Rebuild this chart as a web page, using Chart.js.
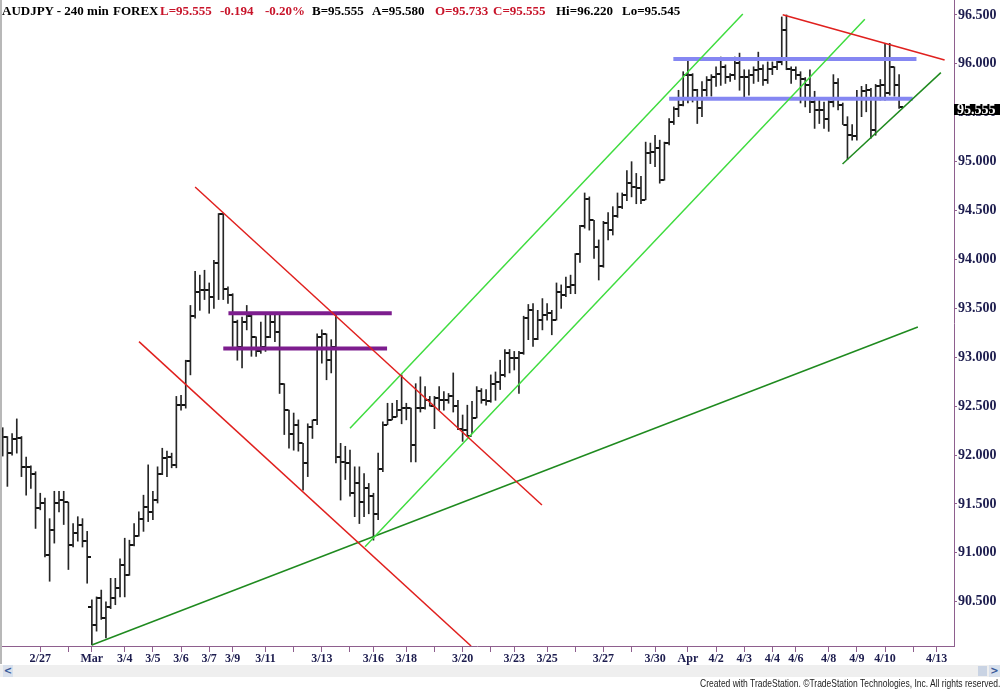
<!DOCTYPE html>
<html>
<head>
<meta charset="utf-8">
<script src="https://cdn.jsdelivr.net/npm/chart.js@4.4.0/dist/chart.umd.min.js"></script>
<style>
html,body{margin:0;padding:0;background:#fff;}
#wrap{position:relative;width:1000px;height:689px;overflow:hidden;background:#fff;}
#c{position:absolute;left:0;top:0;}
.t{position:absolute;top:3px;font:bold 13px "Liberation Serif",serif;white-space:pre;line-height:16px;}
.k{color:#000;}
.r{color:#c8142a;}
#edge{position:absolute;left:0;top:0;width:2px;height:664px;background:#b8b8b8;}
#scroll{position:absolute;left:0;top:665px;width:1000px;height:12px;background:#efefef;}
#sl{position:absolute;left:3px;top:0;width:10px;height:12px;background:#d8e0ec;color:#3a5a9a;font:bold 10px "DejaVu Sans",sans-serif;line-height:12px;text-align:center;}
#sr{position:absolute;right:0;top:0;width:11px;height:12px;background:#d8e0ec;color:#3a5a9a;font:bold 10px "DejaVu Sans",sans-serif;line-height:12px;text-align:center;}
#sm{position:absolute;right:13px;top:1px;width:9px;height:10px;background:#c9d3e3;}
#foot{position:absolute;right:0;top:678px;font:11px "Liberation Sans Narrow","Liberation Sans",sans-serif;color:#222;white-space:pre;transform-origin:right top;line-height:11px;}
</style>
</head>
<body>
<div id="wrap">
<canvas id="c" width="1000" height="689"></canvas>
<div id="edge"></div>
<span class="t k" style="left:2px">AUDJPY - 240 min</span>
<span class="t k" style="left:113px">FOREX</span>
<span class="t r" style="left:160px">L=95.555</span>
<span class="t r" style="left:220px">-0.194</span>
<span class="t r" style="left:265px">-0.20%</span>
<span class="t k" style="left:312px">B=95.555</span>
<span class="t k" style="left:372px">A=95.580</span>
<span class="t r" style="left:435px">O=95.733</span>
<span class="t r" style="left:493px">C=95.555</span>
<span class="t k" style="left:556px">Hi=96.220</span>
<span class="t k" style="left:622px">Lo=95.545</span>
<div id="scroll"><div id="sl">&lt;</div><div id="sm"></div><div id="sr">&gt;</div></div>
<div id="foot">Created with TradeStation. ©TradeStation Technologies, Inc. All rights reserved.</div>
</div>
<script>
// ---- data (AUDJPY 240-min bars) ----
const opens = [92.25,92.19,92.02,92.16,92.17,91.88,91.88,91.81,91.46,91.51,
90.98,91.23,91.51,91.54,91.52,91.08,91.20,91.29,91.12,90.45,
90.26,90.54,90.33,90.45,90.54,90.64,90.88,90.77,91.08,91.17,
91.35,91.47,91.42,91.54,91.81,91.97,91.98,91.90,92.51,92.51,
92.96,93.42,93.67,93.69,93.69,93.62,93.96,94.46,93.70,93.64,
93.36,93.11,93.36,93.42,93.21,93.06,93.11,93.21,93.36,93.26,
92.73,92.46,92.22,92.31,92.12,91.92,92.29,92.36,93.21,93.24,
92.97,93.11,91.98,91.93,91.92,91.61,91.71,91.52,91.66,91.58,
91.40,91.86,92.31,92.36,92.39,92.46,92.48,92.48,92.10,92.48,
92.48,92.56,92.50,92.58,92.56,92.56,92.60,92.50,92.27,92.26,
92.20,92.38,92.66,92.56,92.55,92.73,92.75,92.82,93.04,92.99,
92.99,93.04,93.40,93.48,93.19,93.38,93.43,93.45,93.38,93.67,
93.64,93.72,93.74,94.06,94.34,94.62,94.40,94.13,93.93,94.37,
94.30,94.44,94.54,94.66,94.78,94.74,94.73,94.61,95.09,95.10,
95.14,94.81,95.19,95.41,95.54,95.58,95.89,95.89,95.73,95.55,
95.73,95.84,95.87,95.90,95.97,95.87,95.89,96.01,95.87,95.87,
95.89,95.94,95.95,95.83,95.95,95.97,96.02,96.35,95.95,95.94,
95.89,95.85,95.78,95.61,95.53,95.53,95.44,95.61,95.80,95.58,
95.38,95.27,95.26,95.65,95.72,95.73,95.32,95.77,95.78,95.70,
95.97,95.78];
const highs = [92.28,92.19,92.22,92.37,92.19,91.98,91.89,91.83,91.61,91.56,
91.35,91.63,91.63,91.63,91.52,91.30,91.37,91.35,91.22,90.52,
90.55,90.62,90.50,90.74,90.74,90.94,91.15,91.13,91.30,91.42,
91.59,91.90,91.63,91.88,92.07,92.04,92.02,92.60,92.61,92.97,
93.53,93.88,93.84,93.89,93.76,93.99,94.47,94.47,93.72,93.65,
93.38,93.41,93.53,93.43,93.21,93.36,93.43,93.43,93.43,93.43,
92.73,92.46,92.43,92.36,92.12,92.32,92.36,93.24,93.28,93.24,
93.18,93.45,92.12,92.09,92.05,91.88,91.88,91.81,91.71,91.61,
92.02,92.34,92.53,92.53,92.56,92.82,92.53,92.48,92.73,92.80,
92.70,92.60,92.60,92.70,92.65,92.63,92.84,92.56,92.41,92.51,
92.55,92.70,92.68,92.67,92.82,92.85,92.97,93.08,93.08,93.06,
93.06,93.42,93.54,93.55,93.48,93.60,93.55,93.48,93.76,93.74,
93.82,93.84,94.06,94.35,94.68,94.64,94.40,94.20,94.39,94.48,
94.54,94.68,94.68,94.91,95.00,94.88,94.85,95.20,95.19,95.27,
95.22,95.20,95.44,95.56,95.73,95.92,96.06,95.90,95.74,95.82,
95.87,95.89,95.97,96.07,95.99,95.90,96.07,96.11,95.94,95.94,
95.97,96.12,95.99,96.02,96.02,96.04,96.48,96.50,95.97,95.97,
95.92,95.86,95.94,95.72,95.63,95.61,95.65,95.89,95.85,95.60,
95.46,95.38,95.73,95.77,95.79,95.75,95.79,95.84,96.21,96.21,
95.97,95.89];
const lows = [91.99,91.68,92.00,92.02,91.78,91.59,91.66,91.25,91.44,90.96,
90.71,91.10,91.42,91.29,90.83,91.06,91.12,91.06,90.69,90.06,
90.20,90.32,90.13,90.43,90.47,90.55,90.55,90.77,91.07,91.17,
91.22,91.32,91.34,91.51,91.80,91.78,91.87,91.87,92.46,92.48,
92.82,93.40,93.48,93.59,93.45,93.50,93.59,93.59,93.55,93.11,
92.97,92.89,93.28,93.01,93.01,93.04,93.06,93.20,93.16,92.63,
92.21,92.07,92.05,92.04,91.64,91.78,92.17,92.31,92.94,92.77,
92.84,91.92,91.54,91.75,91.58,91.37,91.30,91.37,91.40,91.13,
91.34,91.83,92.31,92.36,92.39,92.32,92.36,91.93,91.93,92.44,
92.47,92.50,92.27,92.46,92.46,92.53,92.44,92.26,92.14,92.19,
92.22,92.38,92.53,92.51,92.54,92.56,92.67,92.80,92.84,92.87,
92.63,93.03,93.18,93.11,93.18,93.28,93.38,93.23,93.38,93.50,
93.62,93.65,93.65,93.97,94.32,94.30,94.01,93.79,93.92,94.20,
94.25,94.43,94.52,94.60,94.64,94.57,94.57,94.61,94.98,94.95,
94.78,94.81,95.17,95.38,95.46,95.57,95.60,95.61,95.39,95.46,
95.67,95.67,95.77,95.78,95.80,95.82,95.84,95.73,95.65,95.68,
95.80,95.82,95.78,95.80,95.89,95.94,95.99,95.94,95.80,95.84,
95.60,95.56,95.50,95.34,95.39,95.34,95.31,95.56,95.53,95.38,
95.02,95.22,95.22,95.46,95.51,95.24,95.27,95.63,95.63,95.68,
95.67,95.545];
const closes = [92.19,92.02,92.16,92.17,91.88,91.88,91.81,91.46,91.51,90.98,
91.23,91.51,91.54,91.52,91.08,91.20,91.29,91.12,90.96,90.26,
90.54,90.33,90.45,90.54,90.64,90.88,90.77,91.08,91.17,91.35,
91.47,91.42,91.54,91.81,91.97,91.98,91.90,92.51,92.51,92.96,
93.42,93.67,93.69,93.69,93.62,93.96,94.46,93.70,93.64,93.36,
93.11,93.36,93.42,93.21,93.06,93.11,93.21,93.36,93.26,92.73,
92.46,92.22,92.31,92.12,91.92,92.29,92.36,93.21,93.24,92.97,
93.11,91.98,91.93,91.92,91.61,91.71,91.52,91.66,91.58,91.40,
91.86,92.31,92.36,92.39,92.46,92.48,92.48,92.10,92.48,92.48,
92.56,92.50,92.58,92.56,92.56,92.60,92.50,92.27,92.26,92.20,
92.38,92.66,92.56,92.55,92.73,92.75,92.82,93.04,92.99,92.99,
93.04,93.40,93.48,93.19,93.38,93.43,93.45,93.38,93.67,93.64,
93.72,93.74,94.06,94.34,94.62,94.40,94.13,93.93,94.37,94.30,
94.44,94.54,94.66,94.78,94.74,94.73,94.61,95.09,95.10,95.14,
94.81,95.19,95.41,95.54,95.58,95.89,95.89,95.73,95.55,95.73,
95.84,95.87,95.90,95.97,95.87,95.89,96.01,95.87,95.87,95.89,
95.94,95.95,95.83,95.95,95.97,96.02,96.35,95.95,95.94,95.89,
95.85,95.78,95.61,95.53,95.53,95.44,95.61,95.80,95.58,95.38,
95.27,95.26,95.65,95.72,95.73,95.32,95.77,95.78,95.70,95.97,
95.78,95.555];

// date ticks (bar index of first bar of the day) and their labels
const xTickPos = [8,14,19,26,32,38,44,49,56,62,68,74,79,86,92,98,104,109,116,122,128,134,139,146,152,158,164,169,176,182,188,194,199];
const xTickLabels = ['2/27','','Mar','3/4','3/5','3/6','3/7','3/9','3/11','','3/13','','3/16','3/18','','3/20','','3/23','3/25','','3/27','','3/30','Apr','4/2','4/3','4/4','4/6','4/8','4/9','4/10','','4/13'];
const yTicks = [90.5,91.0,91.5,92.0,92.5,93.0,93.5,94.0,94.5,95.0,95.5,96.0,96.5];

// drawn trend lines: [bar index, price] end points
const redChannelTop = [[41.0,94.741],[114.9,91.49]];
const redChannelBottom = [[29.04,93.16],[99.8,90.048]];
const redTopRight = [[166.2,96.503],[200.7,96.04]];
const purpleHigh = [[48.1,93.45],[82.9,93.45]];
const purpleLow = [[47.0,93.09],[81.9,93.09]];
const greenChannelTop = [[74.0,92.274],[157.7,96.51]];
const greenChannelBottom = [[77.2,91.063],[183.7,96.456]];
const greenLongSupport = [[19.0,90.058],[195.0,93.31]];
const greenShortSupport = [[178.95,94.976],[199.9,95.91]];
const blueHigh = [[142.9,96.05],[194.7,96.05]];
const blueLow = [[142.0,95.644],[193.9,95.644]];

// ---- rendering ----
function tickImg(left){
  const c=document.createElement('canvas'); c.width=7; c.height=2;
  const g=c.getContext('2d'); g.fillStyle='#111';
  g.fillRect(left?0:4,0,3,2); return c;
}
const openImg=tickImg(true), closeImg=tickImg(false);
const idx = closes.map((_,i)=>i);
const pts = a => a.map(p=>({x:p[0],y:p[1]}));
function lineDs(arr,color,w){
  return {type:'line',data:pts(arr),borderColor:color,borderWidth:w,pointRadius:0,fill:false,tension:0,order:1,borderCapStyle:'butt'};
}
const lastPrice = closes[closes.length-1];
const axisCol='#8e5f8e', labCol='#1c1c4e';

const lastPricePlugin={id:'lastPrice',afterDraw(chart){
  const ctx=chart.ctx, ca=chart.chartArea, y=chart.scales.y.getPixelForValue(lastPrice);
  ctx.save();
  ctx.fillStyle='#000'; ctx.fillRect(ca.right,Math.round(y-3),46,11);
  ctx.fillStyle='#fff'; ctx.font='bold 14px "Liberation Serif"'; ctx.textBaseline='middle';
  ctx.fillText(lastPrice.toFixed(3),ca.right+3,y+3);
  ctx.restore();
}};

new Chart(document.getElementById('c'),{
  type:'bar',
  data:{datasets:[
    {type:'bar',data:idx.map(i=>({x:i,y:[lows[i],highs[i]]})),backgroundColor:'#262626',borderWidth:0,barThickness:1,grouped:false,order:10},
    {type:'line',data:idx.map(i=>({x:i,y:opens[i]})),showLine:false,pointStyle:openImg,pointRadius:3,order:9},
    {type:'line',data:idx.map(i=>({x:i,y:closes[i]})),showLine:false,pointStyle:closeImg,pointRadius:3,order:9},
    lineDs(redChannelTop,'#e0201e',1.5),
    lineDs(redChannelBottom,'#e0201e',1.5),
    lineDs(redTopRight,'#e0201e',1.5),
    lineDs(greenChannelTop,'#3fdc3f',1.5),
    lineDs(greenChannelBottom,'#3fdc3f',1.5),
    lineDs(greenLongSupport,'#1f8a1f',1.5),
    lineDs(greenShortSupport,'#1f8a1f',1.5),
    lineDs(purpleHigh,'#7d1d8e',4),
    lineDs(purpleLow,'#7d1d8e',4),
    lineDs(blueHigh,'#8587f2',4),
    lineDs(blueLow,'#8587f2',4)
  ]},
  options:{
    responsive:false,animation:false,events:[],
    layout:{padding:0,autoPadding:false},
    plugins:{legend:{display:false},tooltip:{enabled:false},title:{display:false}},
    scales:{
      x:{type:'linear',min:-0.575,max:202.7,offset:false,
        grid:{display:true,offset:false,drawOnChartArea:false,drawTicks:true,tickLength:6,color:axisCol},
        border:{display:true,color:axisCol,width:1},
        ticks:{autoSkip:false,maxRotation:0,minRotation:0,padding:0,color:labCol,
          font:{family:'Liberation Serif',size:12,weight:'bold'},
          callback:(v,i)=>xTickLabels[i]},
        afterBuildTicks:s=>{s.ticks=xTickPos.map(v=>({value:v}));},
        afterFit:s=>{s.height=43;s.paddingLeft=0;s.paddingRight=0;s.paddingTop=0;s.paddingBottom=0;}
      },
      y:{type:'linear',position:'right',min:90.048,max:96.653,
        grid:{display:true,drawOnChartArea:false,tickLength:3,color:axisCol},
        border:{display:true,color:axisCol,width:1},
        ticks:{padding:1,color:labCol,font:{family:'Liberation Serif',size:14,weight:'bold'},
          callback:v=>Number(v).toFixed(3)},
        afterBuildTicks:s=>{s.ticks=yTicks.map(v=>({value:v}));},
        afterFit:s=>{s.width=46;s.paddingTop=0;s.paddingBottom=0;s.paddingLeft=0;s.paddingRight=0;}
      }
    }
  },
  plugins:[lastPricePlugin]
});

// fit footer text width like the reference
const foot=document.getElementById('foot');
const fw=foot.offsetWidth; if(fw>0){foot.style.transform='scaleX('+(300/fw)+')';}
</script>
</body>
</html>
